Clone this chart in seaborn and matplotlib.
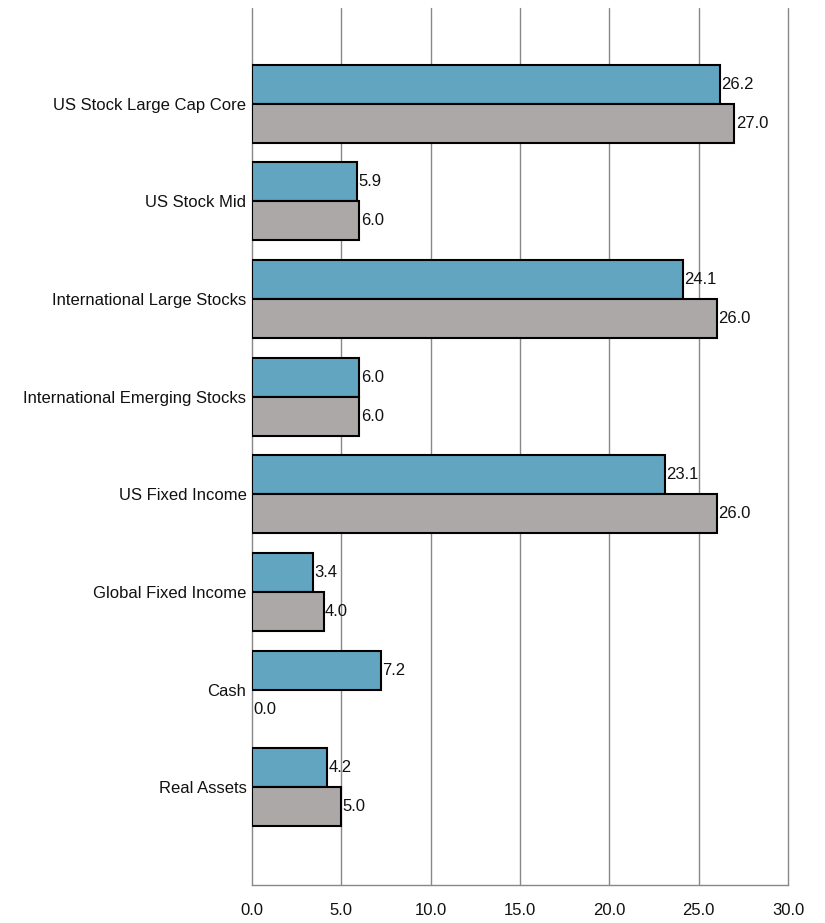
import matplotlib
matplotlib.use("Agg")
import matplotlib.pyplot as plt
import seaborn as sns
import pandas as pd

categories = ["US Stock Large Cap Core", "US Stock Mid", "International Large Stocks",
              "International Emerging Stocks", "US Fixed Income", "Global Fixed Income",
              "Cash", "Real Assets"]
series_a = [26.2, 5.9, 24.1, 6.0, 23.1, 3.4, 7.2, 4.2]
series_b = [27.0, 6.0, 26.0, 6.0, 26.0, 4.0, 0.0, 5.0]
series_names = ["Current", "Target"]
xticks = [0, 5, 10, 15, 20, 25, 30]

df = pd.DataFrame({
    "category": categories * 2,
    "value": series_a + series_b,
    "series": [series_names[0]] * len(categories) + [series_names[1]] * len(categories),
})

sns.set_theme(style="white")
plt.rcParams['font.family'] = ['Liberation Sans', 'DejaVu Sans']

fig = plt.figure(figsize=(8.25, 9.23), dpi=100)
ax = fig.add_axes([0.3055, 0.0412, 0.6497, 0.9501])

sns.barplot(data=df, y="category", x="value", hue="series", orient="h",
            palette=["#62A5C1", "#ABA8A7"], saturation=1, edgecolor="black",
            linewidth=1.5, width=0.8, ax=ax, legend=False, zorder=3)

for cont in ax.containers:
    for patch in cont.patches:
        if patch.get_width() == 0:
            patch.set_linewidth(0)
    ax.bar_label(cont, fmt="%.1f", padding=1, fontsize=12, color="#111111")

ax.set_xlim(0, 30)
ax.set_ylim(8.0, -0.98)
ax.set_xticks(xticks)
ax.set_xticklabels([f"{t:.1f}" for t in xticks], fontsize=12, color="#111111")
ax.tick_params(axis="x", length=0, pad=13)
ax.tick_params(axis="y", length=0, pad=4, labelsize=12, labelcolor="#111111")
ax.set_xlabel("")
ax.set_ylabel("")
ax.grid(axis="x", color="#888888", linewidth=1, zorder=0)
for gl in ax.get_xgridlines():
    gl.set_clip_on(False)
ax.grid(axis="y", visible=False)
for s in ["top", "right", "left"]:
    ax.spines[s].set_visible(False)
ax.spines["bottom"].set_color("#888888")
ax.spines["bottom"].set_linewidth(1)

fig.savefig("out.png", dpi=100)
